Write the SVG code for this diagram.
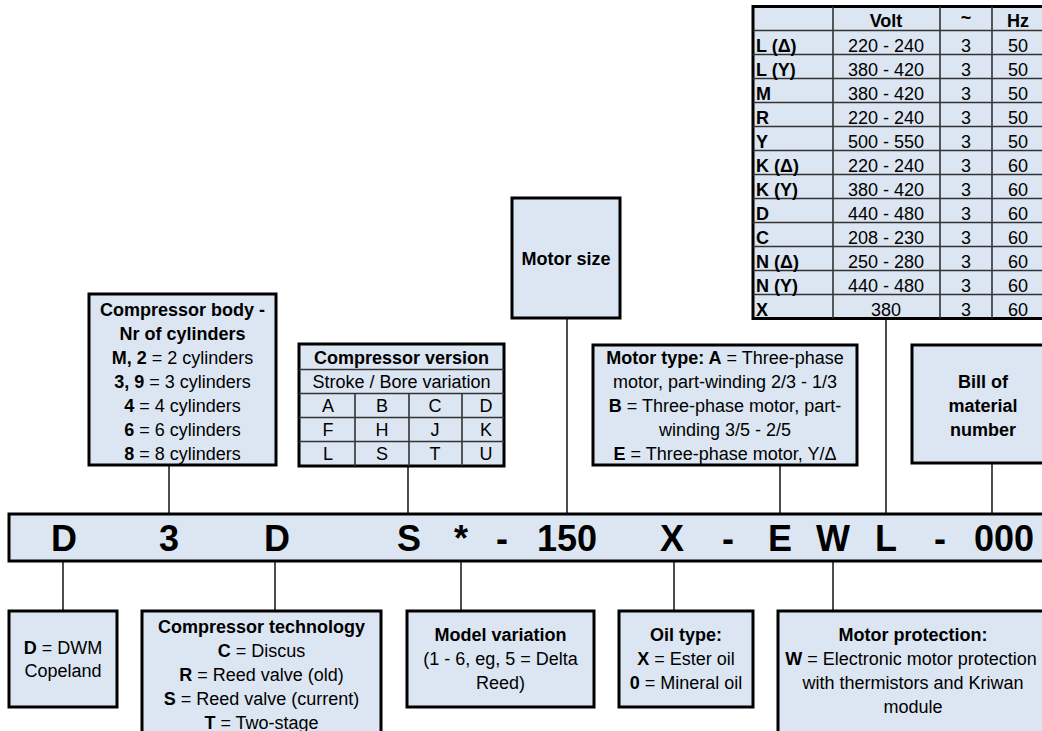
<svg xmlns="http://www.w3.org/2000/svg" width="1042" height="731" viewBox="0 0 1042 731">
<style>
.box{fill:#DCE6F2;stroke:#000;stroke-width:3}
.grid{stroke:#333;stroke-width:1.6;fill:none}
.con{stroke:#000;stroke-width:1.4;fill:none}
text{font-family:"Liberation Sans",Arial,sans-serif;font-size:18px;fill:#000}
.c{text-anchor:middle}
.b{font-weight:bold}
.big{font-size:36px;font-weight:bold;text-anchor:middle}
</style>
<rect width="1042" height="731" fill="#fff"/>
<g id="connectors">
<line class="con" x1="169" y1="465" x2="169" y2="514"/>
<line class="con" x1="408" y1="466" x2="408" y2="514"/>
<line class="con" x1="567" y1="318" x2="567" y2="514"/>
<line class="con" x1="780" y1="465" x2="780" y2="514"/>
<line class="con" x1="886" y1="319" x2="886" y2="514"/>
<line class="con" x1="992" y1="463" x2="992" y2="514"/>
<line class="con" x1="63" y1="561" x2="63" y2="611"/>
<line class="con" x1="275" y1="561" x2="275" y2="611"/>
<line class="con" x1="461" y1="561" x2="461" y2="611"/>
<line class="con" x1="674" y1="561" x2="674" y2="611"/>
<line class="con" x1="833" y1="561" x2="833" y2="611"/>
</g>
<g id="voltage-table">
<rect class="box" x="753" y="6.5" width="295" height="312"/>
<g class="grid">
<line x1="833" y1="6.5" x2="833" y2="318.5"/>
<line x1="940" y1="6.5" x2="940" y2="318.5"/>
<line x1="992" y1="6.5" x2="992" y2="318.5"/>
<line x1="753" y1="30.5" x2="1048" y2="30.5"/>
<line x1="753" y1="54.5" x2="1048" y2="54.5"/>
<line x1="753" y1="78.5" x2="1048" y2="78.5"/>
<line x1="753" y1="102.5" x2="1048" y2="102.5"/>
<line x1="753" y1="126.5" x2="1048" y2="126.5"/>
<line x1="753" y1="150.5" x2="1048" y2="150.5"/>
<line x1="753" y1="174.5" x2="1048" y2="174.5"/>
<line x1="753" y1="198.5" x2="1048" y2="198.5"/>
<line x1="753" y1="222.5" x2="1048" y2="222.5"/>
<line x1="753" y1="246.5" x2="1048" y2="246.5"/>
<line x1="753" y1="270.5" x2="1048" y2="270.5"/>
<line x1="753" y1="294.5" x2="1048" y2="294.5"/>
</g>
<text class="c b" x="886" y="27">Volt</text>
<text class="c b" x="966" y="24" font-size="14">~</text>
<text class="c b" x="1018" y="27">Hz</text>
<g class="b">
<text x="756" y="52">L (Δ)</text>
<text x="756" y="76">L (Y)</text>
<text x="756" y="100">M</text>
<text x="756" y="124">R</text>
<text x="756" y="148">Y</text>
<text x="756" y="172">K (Δ)</text>
<text x="756" y="196">K (Y)</text>
<text x="756" y="220">D</text>
<text x="756" y="244">C</text>
<text x="756" y="268">N (Δ)</text>
<text x="756" y="292">N (Y)</text>
<text x="756" y="316">X</text>
</g>
<g class="c">
<text x="886" y="52">220 - 240</text>
<text x="886" y="76">380 - 420</text>
<text x="886" y="100">380 - 420</text>
<text x="886" y="124">220 - 240</text>
<text x="886" y="148">500 - 550</text>
<text x="886" y="172">220 - 240</text>
<text x="886" y="196">380 - 420</text>
<text x="886" y="220">440 - 480</text>
<text x="886" y="244">208 - 230</text>
<text x="886" y="268">250 - 280</text>
<text x="886" y="292">440 - 480</text>
<text x="886" y="316">380</text>
<text x="966" y="52">3</text><text x="966" y="76">3</text><text x="966" y="100">3</text><text x="966" y="124">3</text>
<text x="966" y="148">3</text><text x="966" y="172">3</text><text x="966" y="196">3</text><text x="966" y="220">3</text>
<text x="966" y="244">3</text><text x="966" y="268">3</text><text x="966" y="292">3</text><text x="966" y="316">3</text>
<text x="1018" y="52">50</text><text x="1018" y="76">50</text><text x="1018" y="100">50</text><text x="1018" y="124">50</text>
<text x="1018" y="148">50</text><text x="1018" y="172">60</text><text x="1018" y="196">60</text><text x="1018" y="220">60</text>
<text x="1018" y="244">60</text><text x="1018" y="268">60</text><text x="1018" y="292">60</text><text x="1018" y="316">60</text>
</g>
</g>
<g id="compressor-body">
<rect class="box" x="89" y="294" width="187" height="171"/>
<text class="c b" x="182.5" y="316">Compressor body -</text>
<text class="c b" x="182.5" y="340">Nr of cylinders</text>
<text class="c" x="182.5" y="364"><tspan class="b">M, 2</tspan> = 2 cylinders</text>
<text class="c" x="182.5" y="388"><tspan class="b">3, 9</tspan> = 3 cylinders</text>
<text class="c" x="182.5" y="412"><tspan class="b">4</tspan> = 4 cylinders</text>
<text class="c" x="182.5" y="436"><tspan class="b">6</tspan> = 6 cylinders</text>
<text class="c" x="182.5" y="460"><tspan class="b">8</tspan> = 8 cylinders</text>
</g>
<g id="compressor-version">
<rect class="box" x="299" y="344" width="205" height="122"/>
<g class="grid">
<line x1="299" y1="369.5" x2="504" y2="369.5"/>
<line x1="299" y1="393.5" x2="504" y2="393.5"/>
<line x1="299" y1="417.5" x2="504" y2="417.5"/>
<line x1="299" y1="441.5" x2="504" y2="441.5"/>
<line x1="355" y1="393.5" x2="355" y2="466"/>
<line x1="409" y1="393.5" x2="409" y2="466"/>
<line x1="462" y1="393.5" x2="462" y2="466"/>
</g>
<text class="c b" x="401.5" y="364">Compressor version</text>
<text class="c" x="401.5" y="388">Stroke / Bore variation</text>
<g class="c">
<text x="328" y="412">A</text><text x="382" y="412">B</text><text x="435" y="412">C</text><text x="486" y="412">D</text>
<text x="328" y="436">F</text><text x="382" y="436">H</text><text x="435" y="436">J</text><text x="486" y="436">K</text>
<text x="328" y="460">L</text><text x="382" y="460">S</text><text x="435" y="460">T</text><text x="486" y="460">U</text>
</g>
</g>
<g id="motor-size">
<rect class="box" x="512" y="198" width="108" height="120"/>
<text class="c b" x="566" y="265">Motor size</text>
</g>
<g id="motor-type">
<rect class="box" x="593" y="345" width="264" height="120"/>
<text class="c" x="725" y="364"><tspan class="b">Motor type: A</tspan> = Three-phase</text>
<text class="c" x="725" y="388">motor, part-winding 2/3 - 1/3</text>
<text class="c" x="725" y="412"><tspan class="b">B</tspan> = Three-phase motor, part-</text>
<text class="c" x="725" y="436">winding 3/5 - 2/5</text>
<text class="c" x="725" y="460"><tspan class="b">E</tspan> = Three-phase motor, Y/Δ</text>
</g>
<g id="bill-of-material">
<rect class="box" x="912" y="345" width="142" height="118"/>
<text class="c b" x="983" y="388">Bill of</text>
<text class="c b" x="983" y="412">material</text>
<text class="c b" x="983" y="436">number</text>
</g>
<g id="code-bar">
<rect class="box" x="9" y="514" width="1045" height="47"/>
<text class="big" x="64" y="551">D</text>
<text class="big" x="169" y="551">3</text>
<text class="big" x="277" y="551">D</text>
<text class="big" x="409" y="551">S</text>
<text class="big" x="461" y="551">*</text>
<text class="big" x="502" y="551">-</text>
<text class="big" x="567" y="551">150</text>
<text class="big" x="672" y="551">X</text>
<text class="big" x="728" y="551">-</text>
<text class="big" x="780" y="551">E</text>
<text class="big" x="833" y="551">W</text>
<text class="big" x="886" y="551">L</text>
<text class="big" x="940" y="551">-</text>
<text class="big" x="1004" y="551">000</text>
</g>
<g id="manufacturer">
<rect class="box" x="9" y="611" width="108" height="96"/>
<text class="c" x="63" y="654"><tspan class="b">D</tspan> = DWM</text>
<text class="c" x="63" y="677">Copeland</text>
</g>
<g id="compressor-technology">
<rect class="box" x="142" y="611" width="239" height="130"/>
<text class="c b" x="261.5" y="633">Compressor technology</text>
<text class="c" x="261.5" y="657"><tspan class="b">C</tspan> = Discus</text>
<text class="c" x="261.5" y="681"><tspan class="b">R</tspan> = Reed valve (old)</text>
<text class="c" x="261.5" y="705"><tspan class="b">S</tspan> = Reed valve (current)</text>
<text class="c" x="261.5" y="729"><tspan class="b">T</tspan> = Two-stage</text>
</g>
<g id="model-variation">
<rect class="box" x="407" y="611" width="187" height="96"/>
<text class="c b" x="500.5" y="641">Model variation</text>
<text class="c" x="500.5" y="665">(1 - 6, eg, 5 = Delta</text>
<text class="c" x="500.5" y="689">Reed)</text>
</g>
<g id="oil-type">
<rect class="box" x="619" y="611" width="134" height="96"/>
<text class="c b" x="686" y="641">Oil type:</text>
<text class="c" x="686" y="665"><tspan class="b">X</tspan> = Ester oil</text>
<text class="c" x="686" y="689"><tspan class="b">0</tspan> = Mineral oil</text>
</g>
<g id="motor-protection">
<rect class="box" x="778" y="611" width="272" height="130"/>
<text class="c b" x="913" y="641">Motor protection:</text>
<text class="c" x="911" y="665"><tspan class="b">W</tspan> = Electronic motor protection</text>
<text class="c" x="913" y="689">with thermistors and Kriwan</text>
<text class="c" x="913" y="713">module</text>
</g>
</svg>
